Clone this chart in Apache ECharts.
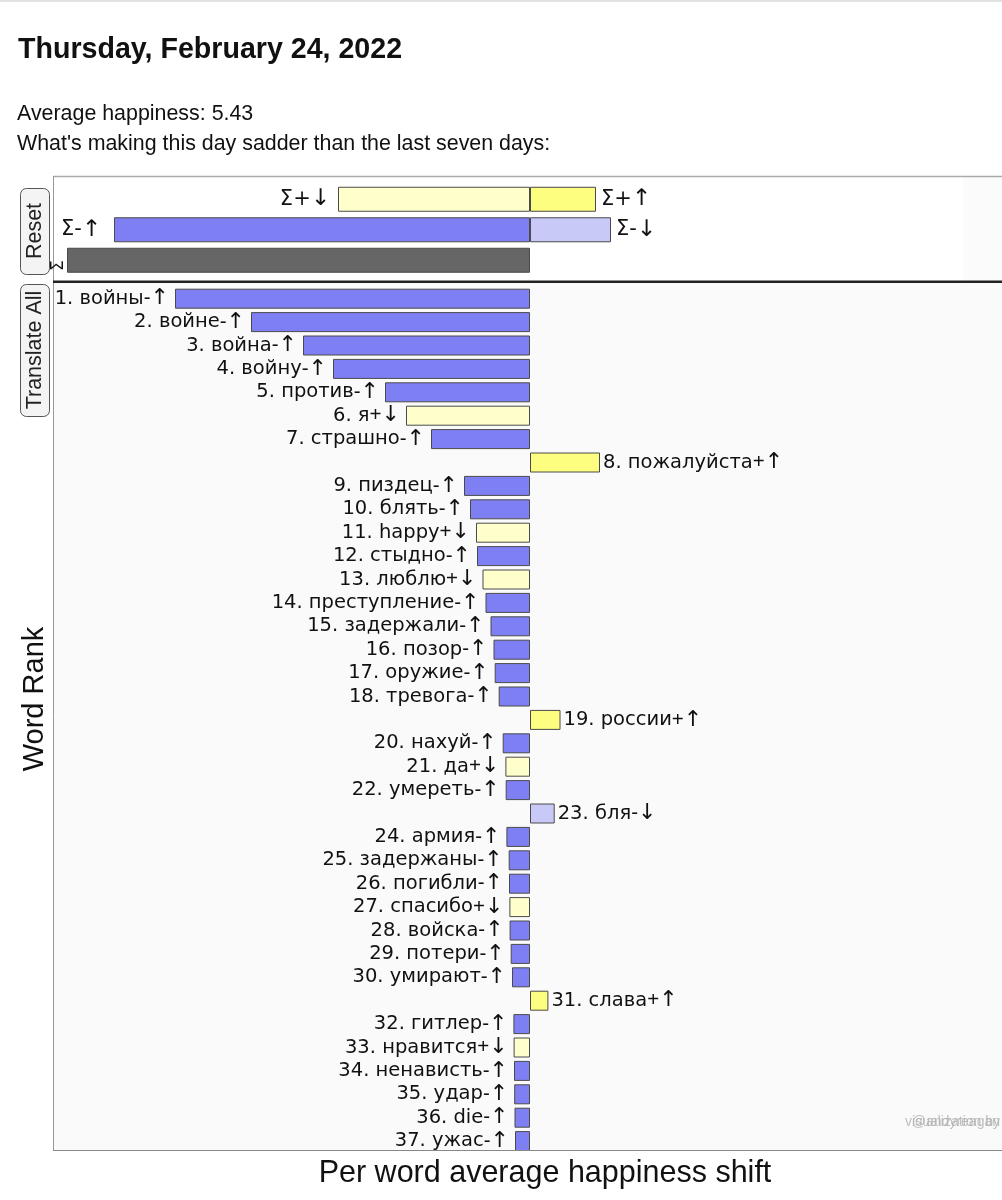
<!DOCTYPE html>
<html>
<head>
<meta charset="utf-8">
<script src="https://cdn.jsdelivr.net/npm/echarts@6.0.0/dist/echarts.min.js"></script>
<style>
  html, body { margin: 0; padding: 0; background: #fff; }
  #chart { position: absolute; left: 0; top: 0; width: 1002px; height: 1200px; }
</style>
</head>
<body>
<div id="chart"></div>
<script>
// ---- Summary (top panel) ----
const sumCategories = ['Σ+', 'Σ-', 'Σ'];
const sumNegValues = [-1.92, -4.16, -4.63];
const sumNegTags = ['Σ+↓', 'Σ-↑', 'Σ'];
const sumPosValues = [0.66, 0.81, null];
const sumPosTags = ['Σ+↑', 'Σ-↓', ''];

// ---- Per-word shifts ----
const words = ['войны', 'войне', 'война', 'войну', 'против', 'я', 'страшно', 'пожалуйста', 'пиздец', 'блять',
  'happy', 'стыдно', 'люблю', 'преступление', 'задержали', 'позор', 'оружие', 'тревога', 'россии', 'нахуй',
  'да', 'умереть', 'бля', 'армия', 'задержаны', 'погибли', 'спасибо', 'войска', 'потери', 'умирают',
  'слава', 'гитлер', 'нравится', 'ненависть', 'удар', 'die', 'ужас'];
const wordSigns = ['-', '-', '-', '-', '-', '+', '-', '+', '-', '-',
  '+', '-', '+', '-', '-', '-', '-', '-', '+', '-',
  '+', '-', '-', '-', '-', '-', '+', '-', '-', '-',
  '+', '-', '+', '-', '-', '-', '-'];
const wordDirs = ['↑', '↑', '↑', '↑', '↑', '↓', '↑', '↑', '↑', '↑',
  '↓', '↑', '↓', '↑', '↑', '↑', '↑', '↑', '↑', '↑',
  '↓', '↑', '↓', '↑', '↑', '↑', '↓', '↑', '↑', '↑',
  '↑', '↑', '↓', '↑', '↑', '↑', '↑'];
const wordValues = [-3.55, -2.79, -2.27, -1.97, -1.45, -1.24, -0.99, 0.70, -0.66, -0.60,
  -0.54, -0.53, -0.475, -0.445, -0.395, -0.365, -0.353, -0.313, 0.305, -0.273,
  -0.246, -0.243, 0.247, -0.236, -0.213, -0.21, -0.206, -0.204, -0.193, -0.18,
  0.184, -0.166, -0.164, -0.16, -0.158, -0.155, -0.15];

const xMin = -4.77, xMax = 4.72;

const C = {
  blue: '#7f7ff4', lightBlue: '#c9c9f8', yellow: '#fdfd80', lightYellow: '#ffffcc', gray: '#666666'
};
function colorFor(sign, dir) {
  if (sign === '-') return dir === '↑' ? C.blue : C.lightBlue;
  return dir === '↑' ? C.yellow : C.lightYellow;
}
const sumColor = { 'Σ+↓': C.lightYellow, 'Σ+↑': C.yellow, 'Σ-↑': C.blue, 'Σ-↓': C.lightBlue, 'Σ': C.gray };

const FONT = '"Liberation Sans", Arial, Helvetica, sans-serif';
const LFONT = '"DejaVu Sans", sans-serif';

const wordRich = {
  t: { fontFamily: LFONT, fontSize: 19.5, color: '#111' },
  s: { fontFamily: FONT, fontSize: 20.5, color: '#111' },
  a: { fontFamily: LFONT, fontSize: 22, color: '#111' }
};
const sumRich = {
  t: { fontFamily: LFONT, fontSize: 21, color: '#111' },
  a: { fontFamily: LFONT, fontSize: 23, color: '#111' }
};

const ranks = words.map((w, i) => String(i + 1));
const wordData = wordValues.map((v, i) => {
  const pos = v >= 0;
  return {
    value: v,
    itemStyle: { color: colorFor(wordSigns[i], wordDirs[i]) },
    label: {
      show: true,
      position: pos ? 'right' : 'left',
      distance: pos ? 3 : 6,
      formatter: '{t|' + (i + 1) + '. ' + words[i] + '}{s|' + wordSigns[i] + '}{a|' + wordDirs[i] + '}',
      rich: wordRich
    }
  };
});

function splitTag(tag) { return '{t|' + tag.slice(0, -1) + '}{a|' + tag.slice(-1) + '}'; }

const sumNegData = sumNegValues.map((v, i) => ({
  value: v,
  itemStyle: { color: sumColor[sumNegTags[i]] },
  label: sumNegTags[i] === 'Σ'
    ? { show: true, position: 'left', distance: 1, offset: [0, -7], rotate: 90, formatter: 'Σ', fontSize: 17, fontFamily: LFONT, color: '#111' }
    : { show: true, position: 'left', distance: i === 1 ? 13 : 8, formatter: splitTag(sumNegTags[i]), rich: sumRich }
}));
const sumPosData = sumPosValues.map((v, i) => (v === null ? { value: null } : {
  value: v,
  itemStyle: { color: sumColor[sumPosTags[i]] },
  label: { show: true, position: 'right', distance: 5, formatter: splitTag(sumPosTags[i]), rich: sumRich }
}));

const chart = echarts.init(document.getElementById('chart'), null, { renderer: 'canvas' });

const option = {
  animation: false,
  backgroundColor: '#ffffff',
  textStyle: { fontFamily: FONT },
  grid: [
    { left: 53, right: 0, top: 184, height: 91.5 },
    { left: 53, right: 0, top: 287, height: 865.8 }
  ],
  xAxis: [
    { gridIndex: 0, type: 'value', min: xMin, max: xMax, show: false },
    { gridIndex: 1, type: 'value', min: xMin, max: xMax, show: false }
  ],
  yAxis: [
    { gridIndex: 0, type: 'category', data: sumCategories, inverse: true, show: false },
    { gridIndex: 1, type: 'category', data: ranks, inverse: true, show: false }
  ],
  series: [
    {
      type: 'bar', xAxisIndex: 0, yAxisIndex: 0, barWidth: 25, barGap: '-100%',
      itemStyle: { borderColor: '#4a4a4a', borderWidth: 1 },
      data: sumNegData, z: 3
    },
    {
      type: 'bar', xAxisIndex: 0, yAxisIndex: 0, barWidth: 25, barGap: '-100%',
      itemStyle: { borderColor: '#4a4a4a', borderWidth: 1 },
      data: sumPosData, z: 3
    },
    {
      type: 'bar', xAxisIndex: 1, yAxisIndex: 1, barWidth: 20,
      itemStyle: { borderColor: '#4a4a4a', borderWidth: 1 },
      data: wordData, z: 3
    }
  ],
  graphic: [
    // page top line
    { type: 'rect', z: 0, shape: { x: 0, y: 0, width: 1002, height: 2 }, style: { fill: '#e2e2e2' } },
    // header text
    { type: 'text', z: 1, x: 18, y: 50, style: { text: 'Thursday, February 24, 2022', font: 'bold 28.6px ' + FONT, fill: '#111', verticalAlign: 'middle' } },
    { type: 'text', z: 1, x: 17, y: 114, style: { text: 'Average happiness: 5.43', font: '21.4px ' + FONT, fill: '#111', verticalAlign: 'middle' } },
    { type: 'text', z: 1, x: 17, y: 144, style: { text: "What's making this day sadder than the last seven days:", font: '21.4px ' + FONT, fill: '#111', verticalAlign: 'middle' } },
    // top panel
    { type: 'rect', z: 0, shape: { x: 53, y: 176, width: 949, height: 105 }, style: { fill: '#ffffff' } },
    { type: 'rect', z: 0, shape: { x: 963, y: 177, width: 39, height: 104 }, style: { fill: '#fbfbfb' } },
    { type: 'line', z: 1, shape: { x1: 53, y1: 176.5, x2: 1002, y2: 176.5 }, style: { stroke: '#aaaaaa', lineWidth: 1.5 } },
    { type: 'line', z: 1, shape: { x1: 53.5, y1: 176, x2: 53.5, y2: 281 }, style: { stroke: '#999999', lineWidth: 1 } },
    // main panel
    { type: 'rect', z: 0, shape: { x: 53, y: 283, width: 949, height: 867 }, style: { fill: '#fafafa' } },
    { type: 'line', z: 1, shape: { x1: 53.5, y1: 283, x2: 53.5, y2: 1150 }, style: { stroke: '#999999', lineWidth: 1 } },
    { type: 'rect', z: 1, shape: { x: 53, y: 280.5, width: 949, height: 2.5 }, style: { fill: '#222222' } },
    // bottom clip
    { type: 'rect', z: 50, shape: { x: 0, y: 1150.5, width: 1002, height: 9 }, style: { fill: '#ffffff' } },
    { type: 'line', z: 51, shape: { x1: 53, y1: 1150.5, x2: 1002, y2: 1150.5 }, style: { stroke: '#888888', lineWidth: 1 } },
    // buttons
    { type: 'rect', z: 60, shape: { x: 20.5, y: 188.5, width: 29, height: 86, r: 6 }, style: { fill: '#f4f4f4', stroke: '#555', lineWidth: 1 } },
    { type: 'text', z: 61, x: 35, y: 231, rotation: Math.PI / 2, style: { text: 'Reset', font: '21.5px ' + FONT, fill: '#222', align: 'center', verticalAlign: 'middle' } },
    { type: 'rect', z: 60, shape: { x: 20.5, y: 284.5, width: 29, height: 132, r: 6 }, style: { fill: '#f4f4f4', stroke: '#555', lineWidth: 1 } },
    { type: 'text', z: 61, x: 35, y: 350, rotation: Math.PI / 2, style: { text: 'Translate All', font: '21.5px ' + FONT, fill: '#222', align: 'center', verticalAlign: 'middle' } },
    // axis titles
    { type: 'text', z: 61, x: 35, y: 699, rotation: Math.PI / 2, style: { text: 'Word Rank', font: '29px ' + FONT, fill: '#111', align: 'center', verticalAlign: 'middle' } },
    { type: 'text', z: 61, x: 545, y: 1174, style: { text: 'Per word average happiness shift', font: '30.5px ' + FONT, fill: '#111', align: 'center', verticalAlign: 'middle' } },
    // watermark
    { type: 'text', z: 5, x: 1000, y: 1122, style: { text: 'visualization by', font: '14px ' + FONT, fill: '#b0b0b0', align: 'right', verticalAlign: 'middle', opacity: 0.8 } },
    { type: 'text', z: 5, x: 1000, y: 1122, style: { text: '@andyreagan', font: '14px ' + FONT, fill: '#b0b0b0', align: 'right', verticalAlign: 'middle', opacity: 0.8 } }
  ]
};
chart.setOption(option);
</script>
</body>
</html>
